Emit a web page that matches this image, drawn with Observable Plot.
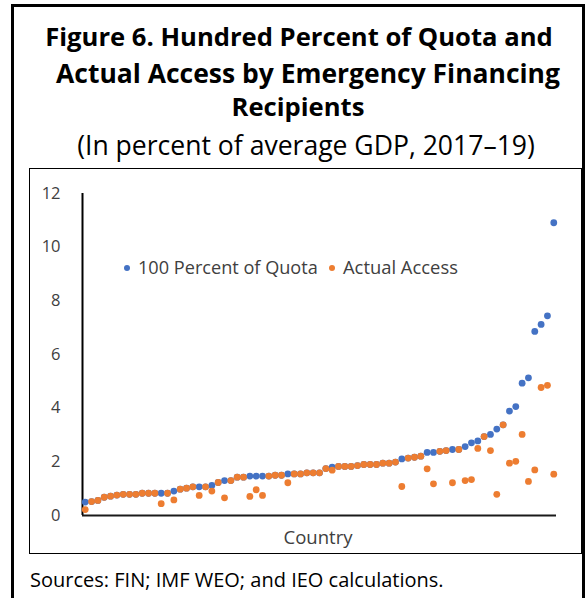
<!DOCTYPE html>
<html><head><meta charset="utf-8">
<script src="https://cdn.jsdelivr.net/npm/d3@7"></script>
<script src="https://cdn.jsdelivr.net/npm/@observablehq/plot@0.6"></script>
<style>
html,body{margin:0;padding:0;background:#fff;}
body{width:587px;height:598px;position:relative;overflow:hidden;font-family:"Open Sans",sans-serif;}
#frame{position:absolute;left:11px;top:4px;width:568px;height:640px;border-left:3px solid #000;border-top:3px solid #000;border-right:3px solid #000;}
#box{position:absolute;left:29px;top:168px;width:551px;height:384px;border:1px solid #000;background:#fff;}
#box svg{display:block;}
#overlay{position:absolute;left:0;top:0;pointer-events:none;}
</style></head><body>
<div id="frame"></div>
<div id="box"></div>
<svg id="overlay" width="587" height="598"></svg>
<script>
// ---- data ----
const quota = [0.50,0.52,0.56,0.68,0.72,0.76,0.79,0.79,0.79,0.83,
               0.83,0.83,0.83,0.83,0.91,0.98,1.02,1.07,1.07,1.07,
               1.12,1.23,1.30,1.30,1.43,1.43,1.47,1.47,1.47,1.47,
               1.50,1.50,1.55,1.55,1.55,1.59,1.59,1.59,1.75,1.80,
               1.83,1.83,1.83,1.86,1.90,1.90,1.90,1.95,1.95,1.99,
               2.11,2.14,2.17,2.21,2.35,2.35,2.39,2.42,2.46,2.46,
               2.57,2.71,2.78,2.94,3.02,3.22,3.38,3.89,4.06,4.93,
               5.13,6.86,7.12,7.44,10.91];
const access = [0.22,0.52,0.56,0.68,0.72,0.76,0.79,0.79,0.79,0.83,
                0.83,0.83,0.44,0.83,0.58,0.98,1.02,1.07,0.75,1.07,
                0.91,1.23,0.66,1.30,1.43,1.43,0.71,0.96,0.75,1.47,
                1.50,1.50,1.22,1.55,1.55,1.59,1.59,1.59,1.75,1.69,
                1.83,1.83,1.83,1.86,1.90,1.90,1.90,1.95,1.95,1.99,
                1.08,2.14,2.17,2.21,1.74,1.18,2.39,2.42,1.22,2.46,
                1.30,1.34,2.50,2.94,2.42,0.79,3.38,1.95,2.02,3.02,
                1.27,1.70,4.77,4.85,1.54];
const countries = d3.range(1, quota.length + 1);
const yTicks = [0, 2, 4, 6, 8, 10, 12];
const seriesNames = ["100 Percent of Quota", "Actual Access"];
const seriesColors = ["#4472C4", "#ED7D31"];
const titleLines = ["Figure 6. Hundred Percent of Quota and", "Actual Access by Emergency Financing", "Recipients"];
const subtitle = "(In percent of average GDP, 2017\u201319)";
const xLabel = "Country";
const caption = "Sources: FIN; IMF WEO; and IEO calculations.";

const data = countries.map((c, i) => ({country: c, quota: quota[i], access: access[i]}));
const xDomain = [0.57, countries.length + 0.43];
const FONT = '"Open Sans", sans-serif';

const chart = Plot.plot({
  width: 551, height: 384,
  marginLeft: 52, marginRight: 25, marginTop: 24, marginBottom: 38,
  style: {fontFamily: FONT, fontSize: "16.5px", color: "#404040", background: "transparent"},
  x: {domain: xDomain, axis: null},
  y: {domain: [0, 12], axis: null},
  marks: [
    Plot.axisY({ticks: yTicks, tickSize: 0, tickPadding: 22, label: null, tickFormat: d => String(d)}),
    Plot.ruleX([xDomain[0]], {y1: 0, y2: 12, stroke: "#000", strokeWidth: 2}),
    Plot.ruleY([0], {stroke: "#1a1a1a", strokeWidth: 2}),
    Plot.dot(data, {x: "country", y: "quota", r: 3.4, fill: seriesColors[0]}),
    Plot.dot(data, {x: "country", y: "access", r: 3.4, fill: seriesColors[1]})
  ]
});
document.getElementById("box").appendChild(chart);

// ---- overlay text (titles, legend, axis label, caption) ----
const ov = d3.select("#overlay");
function addText(str, x, y, size, opts = {}) {
  const t = ov.append("text").text(str)
    .attr("x", x).attr("y", y)
    .attr("font-family", FONT).attr("font-size", size)
    .attr("font-weight", opts.weight || "normal")
    .attr("fill", opts.fill || "#000")
    .attr("text-anchor", opts.anchor || "start");
  if (opts.fitWidth) {
    const w = t.node().getComputedTextLength();
    t.attr("font-size", size * opts.fitWidth / w);
  }
  return t;
}
// title
const t1 = addText(titleLines[0], 299, 46, 24, {weight: "bold", anchor: "middle", fitWidth: 508});
const tSize = +t1.attr("font-size");
addText(titleLines[1], 308, 83, 24, {weight: "bold", anchor: "middle", fitWidth: 504});
addText(titleLines[2], 298, 116, tSize, {weight: "bold", anchor: "middle"});
addText(subtitle, 306, 155, 24, {anchor: "middle", fitWidth: 458});

// legend
const lg = [{x: 127, tx: 138, w: 180}, {x: 332, tx: 343, w: 115}];
seriesNames.forEach((n, i) => {
  ov.append("circle").attr("cx", lg[i].x).attr("cy", 268).attr("r", 3).attr("fill", seriesColors[i]);
  addText(n, lg[i].tx, 274, 16, {fill: "#404040", fitWidth: lg[i].w});
});
// axis label
addText(xLabel, 318, 544, 16, {fill: "#404040", anchor: "middle", fitWidth: 69});
// caption
addText(caption, 30, 587, 18, {fitWidth: 414});
</script>
</body></html>
